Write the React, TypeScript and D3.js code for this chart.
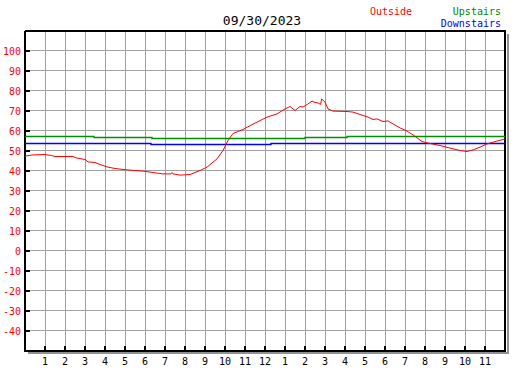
import React from "react";
import * as d3 from "d3";

const title = "09/30/2023";
const yTicks = [100, 90, 80, 70, 60, 50, 40, 30, 20, 10, 0, -10, -20, -30, -40];
const xTickLabels = ["1","2","3","4","5","6","7","8","9","10","11","12","1","2","3","4","5","6","7","8","9","10","11"];

const outsideHours = [0, 0.4, 1.0, 1.33, 1.5, 2.4, 2.6, 3.0, 3.15, 3.5, 3.75, 4.1, 4.5, 5.1, 5.9, 6.4, 6.9, 7.3, 7.35, 7.4, 7.75, 8.25, 8.75, 9.1, 9.6, 9.9, 10.15, 10.4, 10.9, 11.4, 12.1, 12.6, 13.0, 13.25, 13.5, 13.75, 13.9, 14.15, 14.35, 14.5, 14.65, 14.78, 14.83, 15.0, 15.15, 15.4, 16.1, 16.4, 16.75, 17.15, 17.4, 17.6, 17.9, 18.15, 18.4, 18.75, 19.1, 19.4, 19.85, 20.15, 20.75, 21.25, 21.75, 22.1, 22.4, 22.75, 23.1, 23.6, 24.0];
const outsideTemps = [47.2, 47.8, 48, 47.5, 47, 47, 46.2, 45.5, 44.3, 44, 43, 41.8, 41, 40.3, 39.7, 39, 38.3, 38.3, 39, 38.3, 37.7, 38, 40, 41.7, 45.8, 50, 55, 58.5, 60.5, 63.2, 66.7, 68.3, 70.8, 72, 70, 72, 71.7, 73.3, 74.7, 74, 73.8, 73, 75.8, 74.2, 70.8, 69.7, 69.5, 69.2, 68, 66.7, 65.5, 65.8, 64.5, 64.8, 63.3, 61.3, 59.7, 57.8, 54.5, 53.7, 52.5, 51.2, 50, 49.5, 50.3, 51.7, 53.3, 54.7, 55.8];

const upstairsHours = [0, 3.45, 3.45, 6.35, 6.35, 14.0, 14.0, 16.1, 16.1, 24];
const upstairsTemps = [57, 57, 56.5, 56.5, 56, 56, 56.5, 56.5, 57, 57];

const downstairsHours = [0, 6.3, 6.3, 12.3, 12.3, 24];
const downstairsTemps = [53.3, 53.3, 52.8, 52.8, 53.3, 53.3];

const W = 527, H = 370;
const x = d3.scaleLinear().domain([0, 24]).range([25, 505]);
const y = d3.scaleLinear().domain([-50, 110]).range([350.5, 30.5]);

function mkLine(hs: number[], ts: number[], snap = false) {
  const pts = hs.map((h, i) => [h, ts[i]] as [number, number]);
  return d3.line<[number, number]>()
    .x(d => (snap ? Math.round(x(d[0])) : x(d[0])))
    .y(d => (snap ? Math.floor(y(d[1])) + 0.5 : y(d[1])))(pts) || "";
}

const FONT = "'DejaVu Sans Mono', monospace";

export default function App() {
  const hours = d3.range(1, 24);
  return (
    <svg width={W} height={H} style={{ position: "absolute", left: 0, top: 0, background: "#fff" }} fontFamily={FONT}>
      <rect x={0} y={0} width={W} height={H} fill="#fff" />
      {/* grid */}
      <g stroke="#a0a0a0" strokeWidth={1} shapeRendering="crispEdges">
        {hours.map(h => (
          <line key={"v" + h} x1={x(h)} x2={x(h)} y1={y(110)} y2={y(-50)} />
        ))}
        {yTicks.map(t => (
          <line key={"h" + t} x1={x(0)} x2={x(24)} y1={y(t)} y2={y(t)} />
        ))}
      </g>
      {/* shadow */}
      <g stroke="#909090" strokeWidth={2} shapeRendering="crispEdges">
        <line x1={x(24) + 2.5} x2={x(24) + 2.5} y1={y(110) + 3} y2={y(-50) + 3} />
        <line x1={x(0) + 3} x2={x(24) + 3.5} y1={y(-50) + 2.5} y2={y(-50) + 2.5} />
      </g>
      {/* border */}
      <g stroke="#000" shapeRendering="crispEdges">
        <line x1={x(0)} x2={x(24) + 1} y1={y(110)} y2={y(110)} strokeWidth={2} />
        <line x1={x(24)} x2={x(24)} y1={y(110)} y2={y(-50) + 1} strokeWidth={2} />
        <line x1={x(0)} x2={x(24) + 1} y1={y(-50)} y2={y(-50)} strokeWidth={2} />
        <line x1={x(0)} x2={x(0)} y1={y(110)} y2={y(-50) + 1} strokeWidth={2} />
        {yTicks.map(t => (
          <line key={"yt" + t} x1={x(0)} x2={x(0) + 5} y1={y(t)} y2={y(t)} strokeWidth={2} />
        ))}
        {hours.map(h => (
          <line key={"xt" + h} x1={x(h)} x2={x(h)} y1={y(-50)} y2={y(-50) - 5} strokeWidth={2} />
        ))}
      </g>
      {/* y labels */}
      {yTicks.map(t => (
        <text key={"yl" + t} x={21} y={y(t) + 4} textAnchor="end" fill="#ff0000" fontSize={10}>{t}</text>
      ))}
      {/* x labels */}
      {hours.map((h, i) => (
        <text key={"xl" + h} x={x(h)} y={365} textAnchor="middle" fill="#000" fontSize={10}>{xTickLabels[i]}</text>
      ))}
      {/* series */}
      <path d={mkLine(upstairsHours, upstairsTemps, true)} fill="none" stroke="#009000" strokeWidth={1.3} />
      <path d={mkLine(downstairsHours, downstairsTemps, true)} fill="none" stroke="#0000ff" strokeWidth={1.3} />
      <path d={mkLine(outsideHours, outsideTemps)} fill="none" stroke="#ff0000" strokeWidth={1} />
      {/* title & legend */}
      <text x={262} y={25} textAnchor="middle" fontSize={13} fill="#000">{title}</text>
      <text x={370} y={15} fontSize={10} fill="#ff0000">Outside</text>
      <text x={501} y={15} textAnchor="end" fontSize={10} fill="#008800">Upstairs</text>
      <text x={501} y={27} textAnchor="end" fontSize={10} fill="#0000ff">Downstairs</text>
    </svg>
  );
}
